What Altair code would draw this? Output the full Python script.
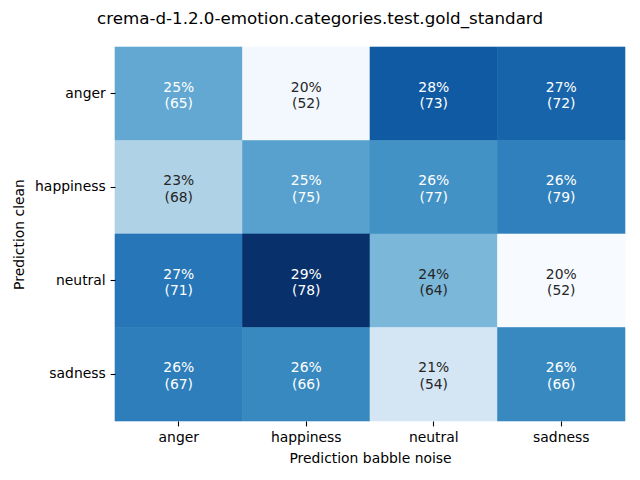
import altair as alt
import pandas as pd
import numpy as np

title = "crema-d-1.2.0-emotion.categories.test.gold_standard"
rows = ["anger", "happiness", "neutral", "sadness"]
cols = ["anger", "happiness", "neutral", "sadness"]
counts = [
    [65, 52, 73, 72],
    [68, 75, 77, 79],
    [71, 78, 64, 52],
    [67, 66, 54, 66],
]

records = []
for i, r in enumerate(rows):
    tot = sum(counts[i])
    for j, c in enumerate(cols):
        p = counts[i][j] / tot * 100
        records.append(dict(clean=r, babble=c, count=counts[i][j], pct=p,
                            label=f"{p:.0f}%\n({counts[i][j]})"))
df = pd.DataFrame(records)

blues = ['#f7fbff', '#deebf7', '#c6dbef', '#9ecae1', '#6baed6',
         '#4292c6', '#2171b5', '#08519c', '#08306b']
dom = list(np.linspace(df.pct.min(), df.pct.max(), len(blues)))
cscale = alt.Scale(domain=dom, range=blues, interpolate="rgb")

base = alt.Chart(df)
x = alt.X("babble:N", sort=cols, title="Prediction babble noise",
          axis=alt.Axis(labelAngle=0, domain=False, tickSize=4.9, tickWidth=1.1,
                        tickColor="#000000", labelPadding=4.9, labelColor="#000000",
                        titlePadding=7, labelFontSize=13.9, titleFontSize=13.9,
                        titleColor="#000000", titleFontWeight="normal"))
y = alt.Y("clean:N", sort=rows, title="Prediction clean",
          axis=alt.Axis(domain=False, tickSize=4.9, tickWidth=1.1,
                        tickColor="#000000", labelPadding=4.9, labelColor="#000000",
                        titlePadding=8, labelFontSize=13.9, titleFontSize=13.9,
                        titleColor="#000000", titleFontWeight="normal"))

rect = base.mark_rect(strokeWidth=0.6).encode(
    x=x, y=y,
    color=alt.Color("pct:Q", scale=cscale, legend=None),
    stroke=alt.Stroke("pct:Q", scale=cscale, legend=None),
)
text = base.mark_text(lineBreak="\n", fontSize=13.9, lineHeight=16.5, baseline="middle",
                      dy=-6).encode(
    x=x, y=y,
    text="label:N",
    color=alt.condition(alt.datum.pct > 24.5, alt.value("#ffffff"), alt.value("#262626")),
)

chart = (rect + text).properties(
    width=510, height=374,
    title=alt.TitleParams(title, fontSize=16.7, fontWeight="normal", color="#000000",
                          anchor="middle", dx=-50, offset=19),
    autosize=alt.AutoSizeParams(type="none"),
    padding={"left": 107, "top": 39, "right": 7, "bottom": 51},
).configure(font="DejaVu Sans").configure_view(stroke=None)

chart.save("out.html", embed_options={"renderer": "svg", "actions": False})
